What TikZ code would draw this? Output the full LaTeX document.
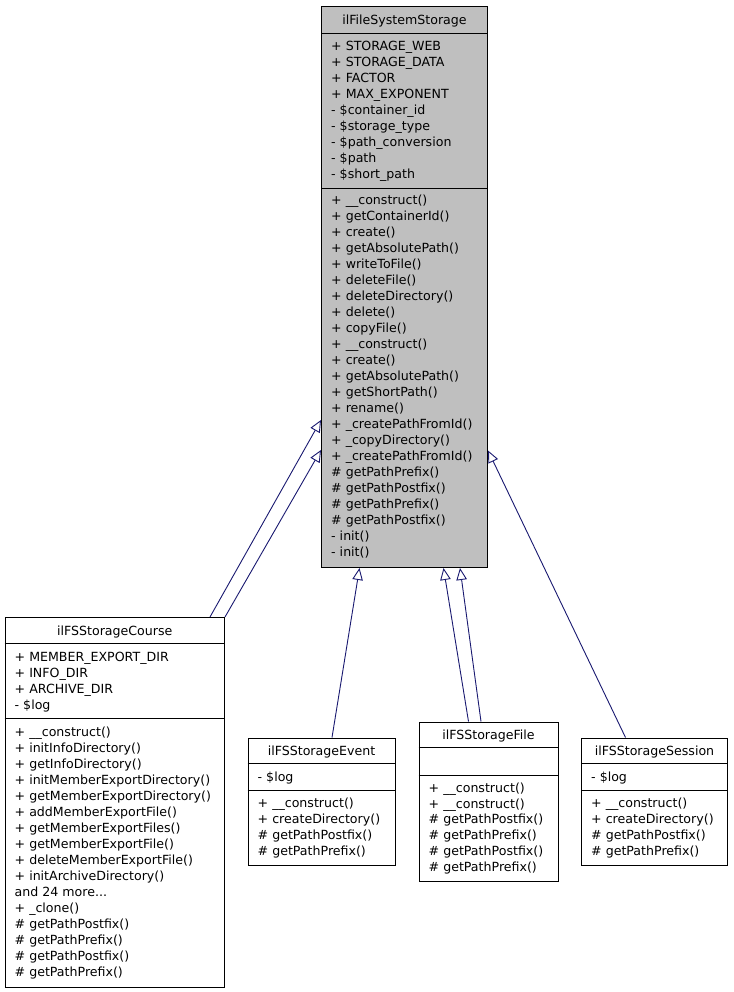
\documentclass[tikz,border=0pt]{standalone}
\usepackage{fontspec}
\setmainfont{DejaVu Sans}
\usetikzlibrary{arrows.meta,positioning}
\definecolor{midnightblue}{RGB}{25,25,112}
\definecolor{boxgray}{RGB}{191,191,191}
\newcommand{\coursemore}{and 24 more...}

\begin{document}
\begin{tikzpicture}[x=1pt,y=-1pt,
    cls/.style={draw=black,line width=1pt,rectangle,inner sep=0pt,anchor=north west},
    title/.style={anchor=base,inner sep=0pt},
    member/.style={anchor=base west,inner sep=0pt},
    inherit/.style={draw=midnightblue,line width=0.9pt,-{Triangle[open,length=12pt,width=10.5pt]}},
    every node/.append style={font=\fontsize{12.6}{16}\selectfont}]
\useasboundingbox (0,0) rectangle (733,992);

% base class
\node[cls,fill=boxgray,minimum width=166pt,minimum height=560.5pt] (fss) at (321,6.5) {};
\draw ([yshift=-26.5pt]fss.north west) -- ([yshift=-26.5pt]fss.north east);
\draw ([yshift=-181.5pt]fss.north west) -- ([yshift=-181.5pt]fss.north east);
\node[title] (fss-t) at ([yshift=-18.5pt]fss.north) {ilFileSystemStorage};
\foreach \m [count=\i from 0] in {{+ STORAGE\_WEB},{+ STORAGE\_DATA},{+ FACTOR},{+ MAX\_EXPONENT},
    {- \$container\_id},{- \$storage\_type},{- \$path\_conversion},{- \$path},{- \$short\_path}}
  \node[member] (fss-a\i) at (331,{51+16*\i}) {\m};
\foreach \m [count=\i from 0] in {{+ \_\_construct()},{+ getContainerId()},{+ create()},{+ getAbsolutePath()},
    {+ writeToFile()},{+ deleteFile()},{+ deleteDirectory()},{+ delete()},{+ copyFile()},
    {+ \_\_construct()},{+ create()},{+ getAbsolutePath()},{+ getShortPath()},{+ rename()},
    {+ \_createPathFromId()},{+ \_copyDirectory()},{+ \_createPathFromId()},
    {\# getPathPrefix()},{\# getPathPostfix()},{\# getPathPrefix()},{\# getPathPostfix()},
    {- init()},{- init()}}
  \node[member] (fss-m\i) at (331,{204.5+16*\i}) {\m};

% course
\node[cls,minimum width=219.5pt,minimum height=369.5pt] (course) at (4.5,617) {};
\draw ([yshift=-26pt]course.north west) -- ([yshift=-26pt]course.north east);
\draw ([yshift=-101pt]course.north west) -- ([yshift=-101pt]course.north east);
\node[title] (course-t) at ([yshift=-18pt]course.north) {ilFSStorageCourse};
\foreach \m [count=\i from 0] in {{+ MEMBER\_EXPORT\_DIR},{+ INFO\_DIR},{+ ARCHIVE\_DIR},{- \$log}}
  \node[member] (course-a\i) at (14.5,{661+16*\i}) {\m};
\foreach \m [count=\i from 0] in {{+ \_\_construct()},{+ initInfoDirectory()},{+ getInfoDirectory()},
    {+ initMemberExportDirectory()},{+ getMemberExportDirectory()},{+ addMemberExportFile()},
    {+ getMemberExportFiles()},{+ getMemberExportFile()},{+ deleteMemberExportFile()},
    {+ initArchiveDirectory()},{\coursemore},{+ \_clone()},
    {\# getPathPostfix()},{\# getPathPrefix()},{\# getPathPostfix()},{\# getPathPrefix()}}
  \node[member] (course-m\i) at (14.5,{736+16*\i}) {\m};

% event
\node[cls,minimum width=147pt,minimum height=127.5pt] (event) at (247.5,737.5) {};
\draw ([yshift=-26pt]event.north west) -- ([yshift=-26pt]event.north east);
\draw ([yshift=-53pt]event.north west) -- ([yshift=-53pt]event.north east);
\node[title] (event-t) at ([yshift=-17.5pt]event.north) {ilFSStorageEvent};
\node[member] (event-a0) at (257.5,781.5) {- \$log};
\foreach \m [count=\i from 0] in {{+ \_\_construct()},{+ createDirectory()},{\# getPathPostfix()},{\# getPathPrefix()}}
  \node[member] (event-m\i) at (257.5,{807+16*\i}) {\m};

% file
\node[cls,minimum width=139pt,minimum height=159.5pt] (file) at (418.5,721.5) {};
\draw ([yshift=-26pt]file.north west) -- ([yshift=-26pt]file.north east);
\draw ([yshift=-53.5pt]file.north west) -- ([yshift=-53.5pt]file.north east);
\node[title] (file-t) at ([yshift=-18pt]file.north) {ilFSStorageFile};
\foreach \m [count=\i from 0] in {{+ \_\_construct()},{+ \_\_construct()},{\# getPathPostfix()},
    {\# getPathPrefix()},{\# getPathPostfix()},{\# getPathPrefix()}}
  \node[member] (file-m\i) at (428.5,{792.5+15.7*\i}) {\m};

% session
\node[cls,minimum width=146pt,minimum height=127.5pt] (session) at (581,737.5) {};
\draw ([yshift=-26pt]session.north west) -- ([yshift=-26pt]session.north east);
\draw ([yshift=-53pt]session.north west) -- ([yshift=-53pt]session.north east);
\node[title] (session-t) at ([yshift=-17.5pt]session.north) {ilFSStorageSession};
\node[member] (session-a0) at (591,781.5) {- \$log};
\foreach \m [count=\i from 0] in {{+ \_\_construct()},{+ createDirectory()},{\# getPathPostfix()},{\# getPathPrefix()}}
  \node[member] (session-m\i) at (591,{807+16*\i}) {\m};

% inheritance
\draw[inherit] ([xshift=205.5pt]course.north west) -- ([yshift=-413.5pt]fss.north west);
\draw[inherit] (course.north east) -- ([yshift=-443.5pt]fss.north west);
\draw[inherit] ([xshift=84.5pt]event.north west) -- ([xshift=38.5pt]fss.south west);
\draw[inherit] ([xshift=50pt]file.north west) -- ([xshift=122.5pt]fss.south west);
\draw[inherit] ([xshift=62.5pt]file.north west) -- ([xshift=139pt]fss.south west);
\draw[inherit] ([xshift=44.5pt]session.north west) -- ([yshift=-444pt]fss.north east);
\end{tikzpicture}
\end{document}
